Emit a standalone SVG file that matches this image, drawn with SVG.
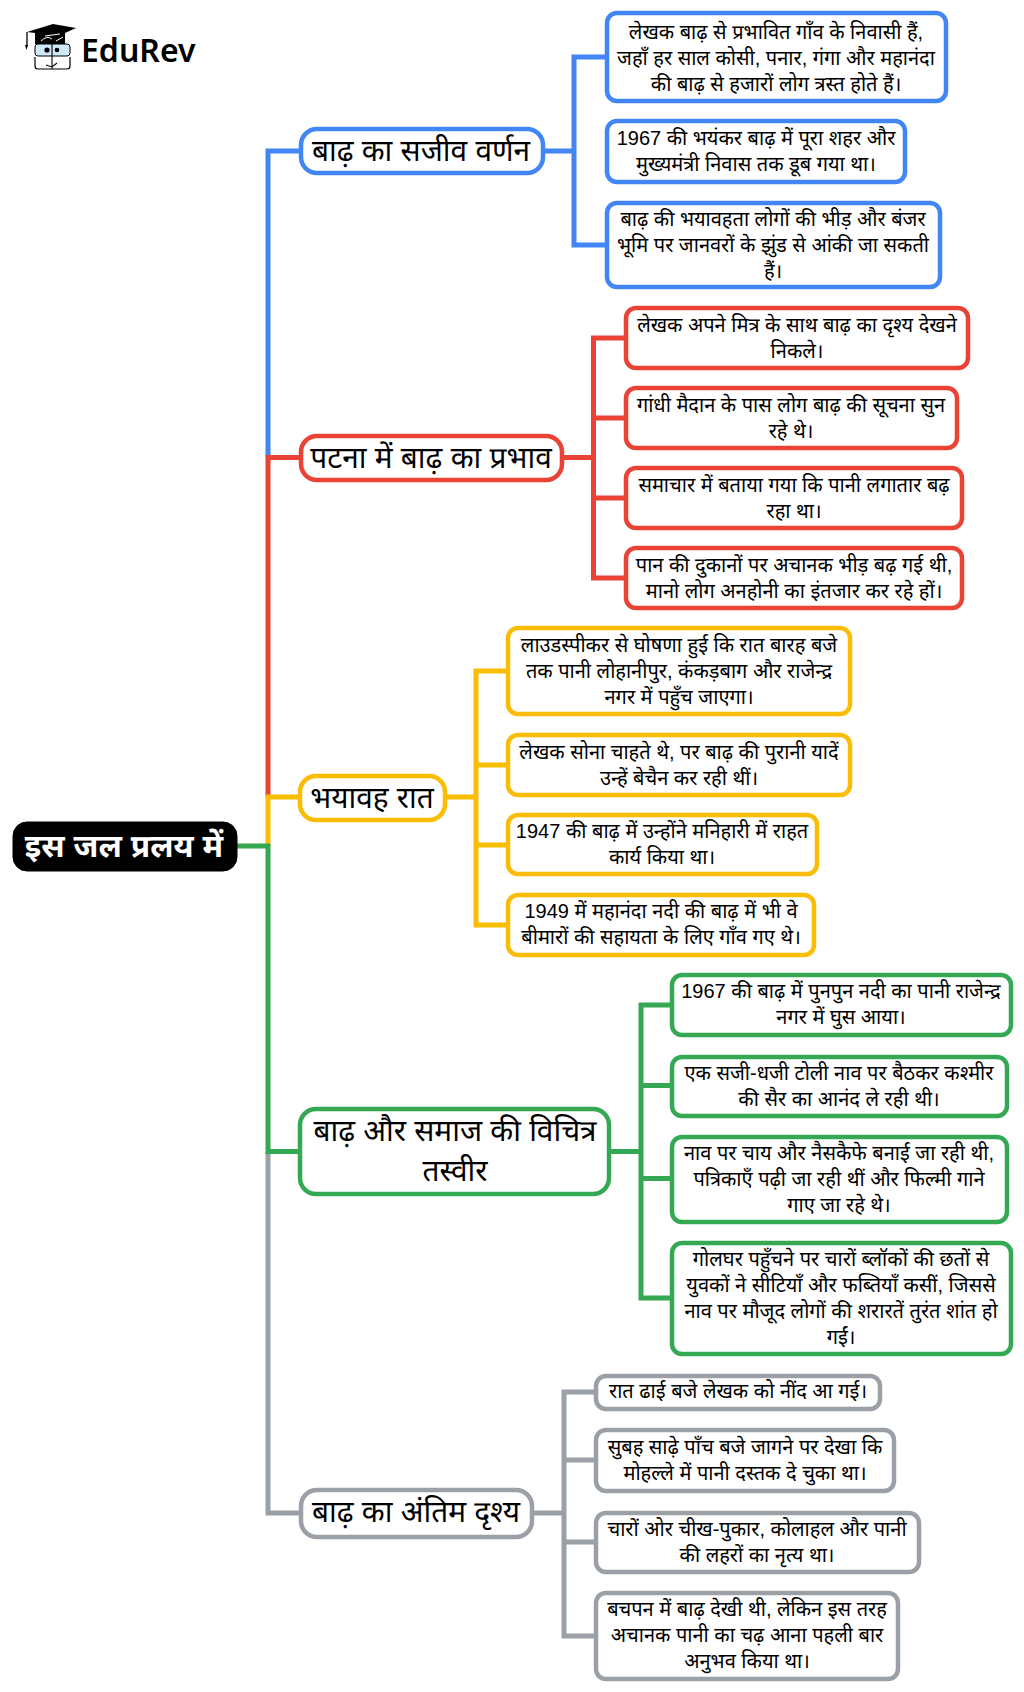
<svg xmlns="http://www.w3.org/2000/svg" width="1024" height="1692" viewBox="0 0 1024 1692">
<style>
text{font-family:"Liberation Sans","Noto Sans Devanagari",sans-serif;fill:#000;text-anchor:middle}
.leaf text{font-size:20px}
.branch text{font-size:29.8px}
rect{fill:#fff;stroke-width:4.5}
.c{fill:none;stroke-width:5}
.bl{stroke:#4285f4}.re{stroke:#ea4335}.ye{stroke:#fbbc04}.gr{stroke:#34a853}.gy{stroke:#9aa0a6}
</style>
<rect width="1024" height="1692" style="fill:#fff;stroke:none"/>
<g id="connectors">
<path class="c bl" d="M299 151H268V457M544 151H574M605 57H574V245H605"/>
<path class="c re" d="M299 457.500H268V797M563 457.500H593.500M624 338H593.500V578H624M593.500 418H624M593.500 498H624"/>
<path class="c gy" d="M268 1152V1513H299M534 1513H564M595 1392H564V1636H595M564 1460H595M564 1542H595"/>
<path class="c ye" d="M299 797H268V846M446 797H476M507 671H476V925H507M476 765H507M476 845H507"/>
<path class="c gr" d="M237 846H268V1151.500H299M610 1151.500H641M671 1005H641V1298H671M641 1085.500H671M641 1178.500H671"/>
</g>
<g id="logo">
<path d="M27 32L53 24L76 28L65 33V44H35V33Z" fill="#000"/>
<path d="M41 41Q47 35 52 39M56 41L63 37M45 36L60 34" stroke="#fff" stroke-width="1" fill="none"/>
<path d="M27 32V46" stroke="#000" stroke-width="1.300" fill="none"/>
<path d="M25 45H28L26.500 50Z" fill="#000"/>
<rect x="35" y="44" width="35" height="12" rx="3" style="fill:#cfe8f8;stroke:#000;stroke-width:1"/>
<path d="M35 57V66Q35 69 38 69H67Q70 69 70 66V57" style="fill:#fff;stroke:#000;stroke-width:1.200"/>
<path d="M52 42V69M46 65L52 67L57 63" stroke="#000" stroke-width="1.100" fill="none"/>
<circle cx="47" cy="50" r="2.600" fill="#000"/><circle cx="57" cy="50" r="2.300" fill="#000"/>
<text x="81" y="62" style="font-family:'Noto Sans','Open Sans',sans-serif;font-size:32px;font-weight:600;text-anchor:start">EduRev</text>
</g>
<g id="root"><rect x="13" y="822" width="224" height="49" rx="14" style="fill:#000;stroke:#000;stroke-width:1"/>
<text x="124" y="857" style="font-size:31.700px;font-weight:700;fill:#fff">इस जल प्रलय में</text></g>

<g id="b1" class="branch"><rect x="301" y="129" width="242" height="44" rx="16" class="bl"/><text x="421" y="161">बाढ़ का सजीव वर्णन</text></g>
<g id="l11" class="leaf"><rect x="607" y="13" width="339" height="88" rx="10" class="bl"/><text x="776" y="39">लेखक बाढ़ से प्रभावित गाँव के निवासी हैं,</text><text x="776" y="65">जहाँ हर साल कोसी, पनार, गंगा और महानंदा</text><text x="776" y="91">की बाढ़ से हजारों लोग त्रस्त होते हैं।</text></g>
<g id="l12" class="leaf"><rect x="607" y="121" width="298" height="61" rx="10" class="bl"/><text x="756" y="145">1967 की भयंकर बाढ़ में पूरा शहर और</text><text x="756" y="171">मुख्यमंत्री निवास तक डूब गया था।</text></g>
<g id="l13" class="leaf"><rect x="607" y="203" width="333" height="84" rx="10" class="bl"/><text x="773" y="226">बाढ़ की भयावहता लोगों की भीड़ और बंजर</text><text x="773" y="252">भूमि पर जानवरों के झुंड से आंकी जा सकती</text><text x="773" y="278">हैं।</text></g>

<g id="b2" class="branch"><rect x="301" y="436" width="261" height="44" rx="16" class="re"/><text x="431" y="468">पटना में बाढ़ का प्रभाव</text></g>
<g id="l21" class="leaf"><rect x="626" y="308" width="342" height="60" rx="10" class="re"/><text x="797" y="332">लेखक अपने मित्र के साथ बाढ़ का दृश्य देखने</text><text x="797" y="358">निकले।</text></g>
<g id="l22" class="leaf"><rect x="626" y="388" width="331" height="60" rx="10" class="re"/><text x="791" y="412">गांधी मैदान के पास लोग बाढ़ की सूचना सुन</text><text x="791" y="438">रहे थे।</text></g>
<g id="l23" class="leaf"><rect x="626" y="468" width="336" height="60" rx="10" class="re"/><text x="794" y="492">समाचार में बताया गया कि पानी लगातार बढ़</text><text x="794" y="518">रहा था।</text></g>
<g id="l24" class="leaf"><rect x="626" y="548" width="336" height="60" rx="10" class="re"/><text x="794" y="572">पान की दुकानों पर अचानक भीड़ बढ़ गई थी,</text><text x="794" y="598">मानो लोग अनहोनी का इंतजार कर रहे हों।</text></g>

<g id="b3" class="branch"><rect x="300" y="776" width="145" height="44" rx="16" class="ye"/><text x="372" y="808">भयावह रात</text></g>
<g id="l31" class="leaf"><rect x="508" y="628" width="342" height="86" rx="10" class="ye"/><text x="679" y="652">लाउडस्पीकर से घोषणा हुई कि रात बारह बजे</text><text x="679" y="678">तक पानी लोहानीपुर, कंकड़बाग और राजेन्द्र</text><text x="679" y="704">नगर में पहुँच जाएगा।</text></g>
<g id="l32" class="leaf"><rect x="508" y="735" width="342" height="60" rx="10" class="ye"/><text x="679" y="759">लेखक सोना चाहते थे, पर बाढ़ की पुरानी यादें</text><text x="679" y="785">उन्हें बेचैन कर रही थीं।</text></g>
<g id="l33" class="leaf"><rect x="508" y="815" width="309" height="59" rx="10" class="ye"/><text x="662" y="838">1947 की बाढ़ में उन्होंने मनिहारी में राहत</text><text x="662" y="864">कार्य किया था।</text></g>
<g id="l34" class="leaf"><rect x="508" y="895" width="306" height="60" rx="10" class="ye"/><text x="661" y="918">1949 में महानंदा नदी की बाढ़ में भी वे</text><text x="661" y="944">बीमारों की सहायता के लिए गाँव गए थे।</text></g>

<g id="b4" class="branch"><rect x="300" y="1109" width="309" height="85" rx="16" class="gr"/><text x="455" y="1141">बाढ़ और समाज की विचित्र</text><text x="455" y="1181">तस्वीर</text></g>
<g id="l41" class="leaf"><rect x="672" y="975" width="339" height="60" rx="10" class="gr"/><text x="841" y="998">1967 की बाढ़ में पुनपुन नदी का पानी राजेन्द्र</text><text x="841" y="1024">नगर में घुस आया।</text></g>
<g id="l42" class="leaf"><rect x="672" y="1057" width="335" height="59" rx="10" class="gr"/><text x="839" y="1080">एक सजी-धजी टोली नाव पर बैठकर कश्मीर</text><text x="839" y="1106">की सैर का आनंद ले रही थी।</text></g>
<g id="l43" class="leaf"><rect x="672" y="1137" width="335" height="85" rx="10" class="gr"/><text x="839" y="1160">नाव पर चाय और नैसकैफे बनाई जा रही थी,</text><text x="839" y="1186">पत्रिकाएँ पढ़ी जा रही थीं और फिल्मी गाने</text><text x="839" y="1212">गाए जा रहे थे।</text></g>
<g id="l44" class="leaf"><rect x="672" y="1243" width="339" height="111" rx="10" class="gr"/><text x="841" y="1266">गोलघर पहुँचने पर चारों ब्लॉकों की छतों से</text><text x="841" y="1292">युवकों ने सीटियाँ और फब्तियाँ कसीं, जिससे</text><text x="841" y="1318">नाव पर मौजूद लोगों की शरारतें तुरंत शांत हो</text><text x="841" y="1344">गईं।</text></g>

<g id="b5" class="branch"><rect x="301" y="1490" width="231" height="47" rx="16" class="gy"/><text x="416" y="1522">बाढ़ का अंतिम दृश्य</text></g>
<g id="l51" class="leaf"><rect x="596" y="1376" width="284" height="33" rx="10" class="gy"/><text x="738" y="1398">रात ढाई बजे लेखक को नींद आ गई।</text></g>
<g id="l52" class="leaf"><rect x="596" y="1430" width="298" height="61" rx="10" class="gy"/><text x="745" y="1454">सुबह साढ़े पाँच बजे जागने पर देखा कि</text><text x="745" y="1480">मोहल्ले में पानी दस्तक दे चुका था।</text></g>
<g id="l53" class="leaf"><rect x="596" y="1513" width="323" height="59" rx="10" class="gy"/><text x="757" y="1536">चारों ओर चीख-पुकार, कोलाहल और पानी</text><text x="757" y="1562">की लहरों का नृत्य था।</text></g>
<g id="l54" class="leaf"><rect x="596" y="1593" width="302" height="86" rx="10" class="gy"/><text x="747" y="1616">बचपन में बाढ़ देखी थी, लेकिन इस तरह</text><text x="747" y="1642">अचानक पानी का चढ़ आना पहली बार</text><text x="747" y="1668">अनुभव किया था।</text></g>
</svg>
